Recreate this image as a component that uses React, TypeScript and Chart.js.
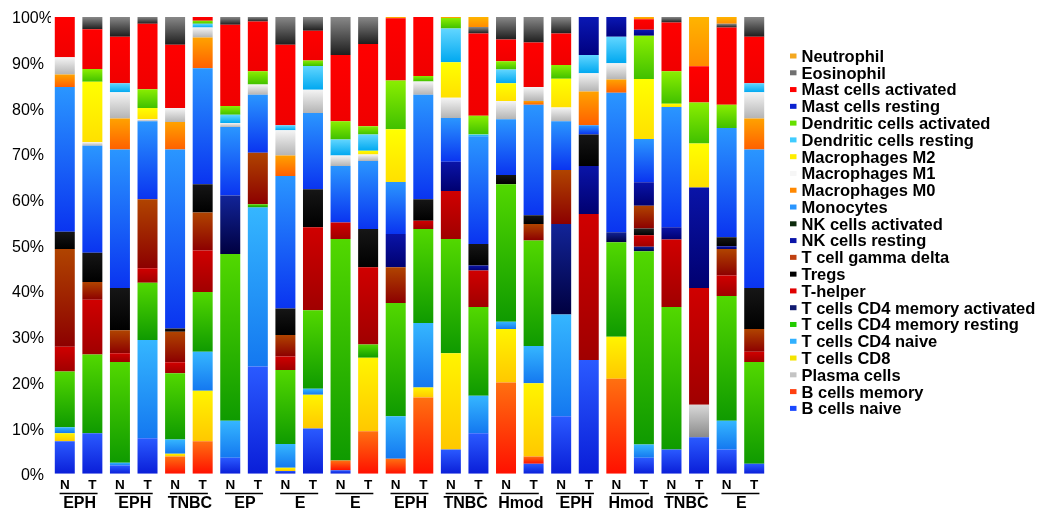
import React, { useEffect, useRef } from 'react';
import { Chart, registerables } from 'chart.js';

Chart.register(...registerables);

// ---- data ----
const SAMPLES = ['N', 'T', 'N', 'T', 'N', 'T', 'N', 'T', 'N', 'T', 'N', 'T', 'N', 'T', 'N', 'T', 'N', 'T', 'N', 'T', 'N', 'T', 'N', 'T', 'N', 'T'];
const GROUPS = ['EPH', 'EPH', 'TNBC', 'EP', 'E', 'E', 'EPH', 'TNBC', 'Hmod', 'EPH', 'Hmod', 'TNBC', 'E'];
const Y_TICK_STEP = 10;

const bCellsNaive = [7.1, 8.9, 1.8, 7.8, 0, 0, 3.5, 23.5, 0.6, 9.9, 0.8, 0, 0, 0, 5.3, 8.9, 0, 2.2, 12.6, 24.9, 0, 3.5, 5.3, 8.0, 5.3, 2.2];
const bCellsMemory = [0, 0, 0, 0, 3.8, 7.1, 0, 0, 0, 0, 2.1, 9.3, 3.3, 16.7, 0, 0, 20.0, 1.6, 0, 0, 20.8, 0, 0, 0, 0, 0];
const plasmaCells = [0, 0, 0, 0, 0, 0, 0, 0, 0, 0, 0, 0, 0, 0, 0, 0, 0, 0, 0, 0, 0, 0, 0, 7.1, 0, 0];
const tCellsCD8 = [1.8, 0, 0, 0, 0.6, 11.1, 0, 0, 0.7, 7.4, 0, 16.1, 0, 2.2, 21.1, 0, 11.7, 16.0, 0, 0, 9.2, 0, 0, 0, 0, 0];
const tCellsCD4Naive = [1.3, 0, 0.6, 21.5, 3.1, 8.5, 8.1, 34.8, 5.2, 1.3, 0, 0, 9.3, 14.1, 0, 8.2, 1.6, 8.2, 22.3, 0, 0, 2.9, 0, 0, 6.3, 0];
const tCellsCD4MemResting = [12.2, 17.2, 22.1, 12.5, 14.5, 13.1, 36.5, 0.7, 16.2, 17.2, 48.5, 2.9, 24.8, 20.6, 25.0, 19.4, 30.1, 23.1, 0, 0, 20.7, 42.3, 31.2, 0, 27.3, 22.3];
const tCellsCD4MemActivated = [0, 0, 0, 0, 0, 0, 12.8, 0, 0, 0, 0, 0, 0, 0, 0, 0, 0, 0, 19.8, 0, 2.2, 1.0, 0, 0, 0, 0];
const tHelper = [5.4, 12.0, 1.9, 3.2, 2.4, 9.1, 0, 0, 3.0, 18.2, 3.6, 16.9, 0, 1.8, 10.5, 8.0, 0, 0, 0, 32.0, 0, 2.5, 14.8, 25.6, 4.5, 2.2];
const tregs = [0, 0, 0, 0, 0, 0, 0, 0, 0, 0, 0, 0, 0, 0, 0, 0, 0, 0, 0, 0, 0, 1.5, 0, 0, 0, 0];
const tCellGammaDelta = [21.4, 3.9, 5.0, 15.1, 6.7, 8.3, 0, 11.3, 4.7, 0, 0, 0, 7.8, 0, 0, 0, 0, 3.6, 11.8, 0, 0, 5.0, 0, 0, 5.8, 5.0];
const nkCellsResting = [0, 0, 0, 0, 0, 0, 0, 0, 0, 0, 0, 0, 7.3, 0, 6.4, 1.1, 0, 0, 0, 10.5, 0, 5.1, 2.7, 22.0, 0.6, 0];
const nkCellsActivated = [3.8, 6.4, 9.3, 0, 0.7, 6.2, 0, 0, 5.8, 8.3, 0, 8.4, 0, 4.7, 0, 4.7, 2.0, 1.9, 0, 6.9, 0, 0, 0, 0, 2.0, 9.0];
const monocytes = [31.7, 23.4, 30.3, 17.1, 39.2, 25.4, 15.0, 12.7, 29.0, 16.7, 12.4, 14.9, 11.4, 22.9, 9.6, 23.6, 12.2, 24.2, 10.7, 2.0, 30.5, 9.5, 26.3, 0, 23.9, 30.3];
const macrophagesM0 = [2.7, 0, 6.8, 0, 6.0, 6.7, 0, 0, 4.5, 0, 0, 0, 0, 0, 0, 0, 0, 0.8, 0, 7.4, 2.9, 0, 0, 0, 0, 6.8];
const macrophagesM1 = [3.8, 0.8, 5.7, 0.4, 3.1, 2.2, 0.9, 2.2, 5.5, 5.1, 2.3, 1.4, 0, 2.9, 4.4, 0, 4.0, 3.1, 3.0, 4.0, 3.6, 0, 0, 0, 0, 5.7];
const macrophagesM2 = [0, 13.2, 0, 2.5, 0, 0, 0, 0, 0, 0, 0, 0.8, 11.5, 0, 7.8, 0, 3.9, 0, 6.3, 0, 0, 13.1, 0.7, 9.6, 0, 0];
const dendriticResting = [0, 0, 2.0, 0, 0, 0.8, 1.8, 0, 1.1, 5.2, 3.5, 3.6, 0, 0, 7.4, 0.4, 3.0, 0, 0, 4.0, 5.8, 0, 0, 0, 0, 2.0];
const dendriticActivated = [0, 2.8, 0, 4.1, 0, 0.7, 1.9, 2.9, 0, 1.2, 4.0, 1.8, 10.7, 1.2, 2.3, 4.1, 1.8, 0, 3.0, 0, 0, 9.5, 7.1, 9.0, 5.1, 0];
const mastResting = [0, 0, 0, 0, 0, 0, 0, 0, 0, 0, 0, 0, 0, 0, 0, 0, 0, 0, 0, 8.3, 4.3, 1.3, 0, 0, 0, 0];
const mastActivated = [8.8, 8.7, 10.2, 14.3, 13.8, 0.8, 17.8, 10.9, 17.6, 6.5, 14.5, 18.0, 13.6, 12.9, 0, 18.0, 4.8, 9.7, 6.9, 0, 0, 2.3, 10.7, 7.9, 16.9, 10.2];
const eosinophil = [0, 2.7, 4.3, 1.5, 6.1, 0, 1.7, 1.0, 6.1, 3.0, 8.3, 5.9, 0, 0, 0, 1.4, 4.9, 5.6, 3.6, 0, 0, 0, 1.2, 0, 0.8, 4.3];
const neutrophil = [0, 0, 0, 0, 0, 0, 0, 0, 0, 0, 0, 0, 0.3, 0, 0.2, 2.2, 0, 0, 0, 0, 0, 0.5, 0, 10.8, 1.5, 0];

// stacking order, bottom first
const SERIES: { label: string; data: number[] }[] = [
  { label: 'B cells naive', data: bCellsNaive },
  { label: 'B cells memory', data: bCellsMemory },
  { label: 'Plasma cells', data: plasmaCells },
  { label: 'T cells CD8', data: tCellsCD8 },
  { label: 'T cells CD4 naive', data: tCellsCD4Naive },
  { label: 'T cells CD4 memory resting', data: tCellsCD4MemResting },
  { label: 'T cells CD4 memory activated', data: tCellsCD4MemActivated },
  { label: 'T-helper', data: tHelper },
  { label: 'Tregs', data: tregs },
  { label: 'T cell gamma delta', data: tCellGammaDelta },
  { label: 'NK cells resting', data: nkCellsResting },
  { label: 'NK cells activated', data: nkCellsActivated },
  { label: 'Monocytes', data: monocytes },
  { label: 'Macrophages M0', data: macrophagesM0 },
  { label: 'Macrophages M1', data: macrophagesM1 },
  { label: 'Macrophages M2', data: macrophagesM2 },
  { label: 'Dendritic cells resting', data: dendriticResting },
  { label: 'Dendritic cells activated', data: dendriticActivated },
  { label: 'Mast cells resting', data: mastResting },
  { label: 'Mast cells activated', data: mastActivated },
  { label: 'Eosinophil', data: eosinophil },
  { label: 'Neutrophil', data: neutrophil },
];

// ---- styles (top colour, bottom colour of each segment's gradient) ----
const SHADES: [string, string][] = [
  ['#2a5aff', '#0a1ed8'],
  ['#ff7010', '#ff1000'],
  ['#d8d8d8', '#8a8a8a'],
  ['#fff400', '#ffc800'],
  ['#35b6ff', '#1478f0'],
  ['#52d800', '#0f9a00'],
  ['#122498', '#000040'],
  ['#d00000', '#a00000'],
  ['#222222', '#000000'],
  ['#b04400', '#8c0000'],
  ['#0a14a8', '#000070'],
  ['#161616', '#000000'],
  ['#2a96ff', '#0a34f0'],
  ['#ffa200', '#ff6000'],
  ['#f4f4f4', '#b4b4b4'],
  ['#ffff00', '#ffe000'],
  ['#62d6ff', '#00a8f0'],
  ['#8aee00', '#40c000'],
  ['#0a18b4', '#000080'],
  ['#ff0000', '#f00000'],
  ['#888888', '#1e1e1e'],
  ['#ffb400', '#ff8c00'],
];
const LEGEND_MARK = [
  '#1a48ff', '#ff4010', '#c4c4c4', '#f4e400', '#30b0ff', '#22cc00', '#101a70', '#e00000',
  '#000000', '#c04010', '#0a14a8', '#0c2a0c', '#2a96ff', '#ff8800', '#f6f6f6', '#ffee00',
  '#40ccff', '#66e000', '#0a22d0', '#ff0000', '#707070', '#f4a820',
];
const FONT = '"Liberation Sans", Arial, Helvetica, sans-serif';

const decorPlugin = {
  id: 'decor',
  afterDraw(chart: any) {
    const { ctx } = chart;
    const x = chart.scales.x;
    ctx.save();
    ctx.fillStyle = '#000';
    ctx.strokeStyle = '#000';
    GROUPS.forEach((g, gi) => {
      const cx = (x.getPixelForValue(2 * gi) + x.getPixelForValue(2 * gi + 1)) / 2;
      ctx.lineWidth = 1.6;
      ctx.beginPath();
      ctx.moveTo(cx - 19, 493.5);
      ctx.lineTo(cx + 19, 493.5);
      ctx.stroke();
      ctx.font = `bold 16px ${FONT}`;
      ctx.textAlign = 'center';
      ctx.textBaseline = 'alphabetic';
      ctx.fillText(g, cx + 1, 507.5);
    });
    // legend, top item = last series
    const n = SERIES.length;
    for (let k = 0; k < n; k++) {
      const si = n - 1 - k;
      const yc = 56 + k * 16.78;
      ctx.fillStyle = LEGEND_MARK[si];
      ctx.fillRect(790, yc - 2.5, 6.5, 5);
      ctx.fillStyle = '#000';
      ctx.font = `bold 16.5px ${FONT}`;
      ctx.textAlign = 'left';
      ctx.textBaseline = 'alphabetic';
      ctx.fillText(SERIES[si].label, 801.5, yc + 5.9);
    }
    ctx.restore();
  },
};

export default function App() {
  const ref = useRef<HTMLCanvasElement | null>(null);
  useEffect(() => {
    if (!ref.current) return;
    const datasets = SERIES.map((s, d) => ({
      label: s.label,
      data: s.data,
      borderWidth: 0,
      barPercentage: 0.725,
      categoryPercentage: 1,
      backgroundColor: (c: any) => {
        const [top, bottom] = SHADES[d];
        const chart = c.chart;
        if (c.type !== 'data' || !chart.chartArea) return top;
        const i = c.dataIndex;
        let below = 0;
        for (let k = 0; k < d; k++) below += SERIES[k].data[i] || 0;
        const v = s.data[i] || 0;
        const yTop = chart.scales.y.getPixelForValue(below + v);
        const yBot = chart.scales.y.getPixelForValue(below);
        if (!isFinite(yTop) || !isFinite(yBot) || yBot - yTop < 0.5) return top;
        const g = chart.ctx.createLinearGradient(0, yTop, 0, yBot);
        g.addColorStop(0, top);
        g.addColorStop(1, bottom);
        return g;
      },
    }));
    const chart = new Chart(ref.current, {
      type: 'bar',
      data: { labels: SAMPLES, datasets },
      plugins: [decorPlugin],
      options: {
        responsive: false,
        animation: false,
        layout: { padding: { left: 12, right: 285, top: 17, bottom: 12 } },
        plugins: { legend: { display: false }, tooltip: { enabled: false } },
        scales: {
          x: {
            stacked: true,
            grid: { display: false, drawTicks: false },
            border: { display: false },
            ticks: {
              autoSkip: false,
              maxRotation: 0,
              padding: 3,
              color: '#000',
              font: { family: FONT, size: 13.5, weight: 'bold' },
            },
          },
          y: {
            stacked: true,
            min: 0,
            max: 100,
            grid: { display: false, drawTicks: false },
            border: { display: false },
            afterFit: (s: any) => {
              s.width = 39;
            },
            ticks: {
              stepSize: Y_TICK_STEP,
              crossAlign: 'far',
              padding: 0,
              labelOffset: 2,
              color: '#000',
              font: { family: FONT, size: 16 },
              callback: (v: any) => (Number(v) === 0 ? '  0%' : `${v}%`),
            },
          },
        },
      } as any,
    });
    return () => chart.destroy();
  }, []);
  return (
    <div style={{ position: 'fixed', left: 0, top: 0, width: 1053, height: 508, background: '#fff' }}>
      <canvas ref={ref} width={1053} height={508} style={{ display: 'block' }} />
    </div>
  );
}
